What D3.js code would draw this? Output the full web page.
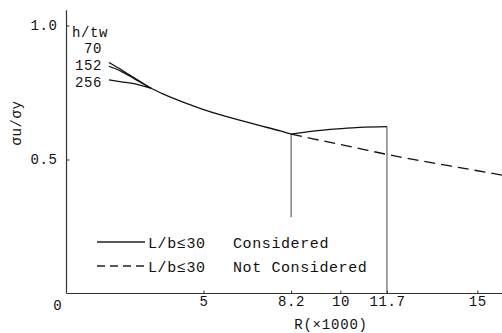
<!DOCTYPE html>
<html>
<head>
<meta charset="utf-8">
<script src="https://cdn.jsdelivr.net/npm/d3@7"></script>
<style>
  html, body { margin: 0; padding: 0; background: #fff; }
  svg { display: block; }
  text { font-family: "Liberation Mono", "DejaVu Sans Mono", monospace; fill: #111; }
</style>
</head>
<body>
<svg id="chart" width="502" height="333"></svg>
<script>
// Ultimate strength ratio σu/σy versus R (×1000)
const hLabels = ["70", "152", "256"];

// Separate branches at small R for each h/tw
const rBranch = [1.55, 2.0, 2.5, 3.1];
const sigma70 = [0.862, 0.835, 0.803, 0.765];
const sigma152 = [0.848, 0.829, 0.800, 0.765];
const sigma256 = [0.797, 0.790, 0.782, 0.765];

// Common curve up to R = 8.2
const rCommon = [3.1, 3.5, 4.0, 4.9, 5.6, 6.35, 7.0, 7.8, 8.2];
const sigmaCommon = [0.765, 0.746, 0.724, 0.690, 0.667, 0.646, 0.628, 0.607, 0.595];

// L/b ≤ 30 considered
const rConsidered = [8.2, 9.0, 10.0, 10.7, 11.7];
const sigmaConsidered = [0.595, 0.606, 0.615, 0.620, 0.623];

// L/b ≤ 30 not considered
const rNotConsidered = [8.2, 9.0, 10.0, 11.0, 11.7, 13.0, 14.0, 15.0, 15.9];
const sigmaNotConsidered = [0.595, 0.577, 0.556, 0.534, 0.519, 0.494, 0.476, 0.458, 0.442];

// Vertical markers
const markerR = [8.2, 11.7];
const markerLow = [0.285, 0];

const xTicks = [5, 8.2, 10, 11.7, 15];
const xTickLabels = ["5", "8.2", "10", "11.7", "15"];
const yTicks = [0.5, 1.0];
const yTickLabels = ["0.5", "1.0"];

const svg = d3.select("#chart");
const x = d3.scaleLinear().domain([0, 15.9]).range([66.5, 502]);
const y = d3.scaleLinear().domain([0, 1]).range([293.5, 25.5]);

const zip = (xs, ys) => xs.map((v, i) => [v, ys[i]]);
const line = d3.line().x(d => x(d[0])).y(d => y(d[1])).curve(d3.curveMonotoneX);

// Axes
const axisColor = "#333";
svg.append("line")
  .attr("x1", x(0)).attr("x2", x(0))
  .attr("y1", y(0)).attr("y2", y(1.057))
  .attr("stroke", axisColor).attr("stroke-width", 1.2);
svg.append("line")
  .attr("x1", x(0)).attr("x2", x(15.9))
  .attr("y1", y(0)).attr("y2", y(0))
  .attr("stroke", axisColor).attr("stroke-width", 1.2);

const tickFont = sel => sel
  .style("font-family", '"Liberation Mono", monospace')
  .style("font-size", "14px").style("letter-spacing", "0.6px").attr("fill", "#111");

const xAxis = d3.axisBottom(x)
  .tickValues(xTicks)
  .tickFormat((d, i) => xTickLabels[i])
  .tickSizeInner(-3).tickSizeOuter(0).tickPadding(3);
const gx = svg.append("g").attr("transform", `translate(0,${y(0)})`).call(xAxis);
gx.select(".domain").remove();
gx.selectAll(".tick line").attr("stroke", axisColor);
gx.selectAll(".tick text").call(tickFont);

const yAxis = d3.axisLeft(y)
  .tickValues(yTicks)
  .tickFormat((d, i) => yTickLabels[i])
  .tickSizeInner(-3).tickSizeOuter(0).tickPadding(9);
const gy = svg.append("g").attr("transform", `translate(${x(0)},0)`).call(yAxis);
gy.select(".domain").remove();
gy.selectAll(".tick line").attr("stroke", axisColor);
gy.selectAll(".tick text").call(tickFont);

// Origin label
svg.append("text").attr("x", x(0) - 9).attr("y", 310)
  .attr("text-anchor", "middle").style("font-size", "14px").text("0");

// Axis titles
svg.append("text").attr("x", 331).attr("y", 329)
  .attr("text-anchor", "middle").style("font-size", "14px").style("letter-spacing", "0.8px")
  .text("R(×1000)");
svg.append("text")
  .attr("transform", "translate(21,123) rotate(-90)")
  .attr("text-anchor", "middle").style("font-size", "14px").style("letter-spacing", "0.6px")
  .text("σu/σy");

// Vertical markers
markerR.forEach((r, i) => {
  const top = i === 0 ? sigmaCommon[sigmaCommon.length - 1] : sigmaConsidered[sigmaConsidered.length - 1];
  svg.append("line")
    .attr("x1", x(r)).attr("x2", x(r))
    .attr("y1", y(top)).attr("y2", y(markerLow[i]))
    .attr("stroke", "#444").attr("stroke-width", 1);
});

// Curves
const curveStyle = sel => sel.attr("fill", "none").attr("stroke", "#111").attr("stroke-width", 1.3);
[sigma70, sigma152, sigma256].forEach(s => {
  svg.append("path").datum(zip(rBranch, s)).attr("d", line).call(curveStyle);
});
svg.append("path").datum(zip(rCommon, sigmaCommon)).attr("d", line).call(curveStyle);
svg.append("path").datum(zip(rConsidered, sigmaConsidered)).attr("d", line).call(curveStyle);
svg.append("path").datum(zip(rNotConsidered, sigmaNotConsidered)).attr("d", line)
  .call(curveStyle).attr("stroke-dasharray", "11,6");

// h/tw labels
svg.append("text").attr("x", 72).attr("y", 37)
  .style("font-size", "14px").style("letter-spacing", "0.6px").text("h/tw");
const labelBase = [53, 70, 87];
hLabels.forEach((t, i) => {
  svg.append("text").attr("x", 102).attr("y", labelBase[i]).attr("text-anchor", "end")
    .style("font-size", "14px").style("letter-spacing", "0.6px").text(t);
});

// Legend
const legend = [
  { dash: null, y: 242, label: "Considered" },
  { dash: "8,5", y: 266, label: "Not Considered" }
];
legend.forEach(d => {
  const l = svg.append("line").attr("x1", 97).attr("x2", 145)
    .attr("y1", d.y).attr("y2", d.y)
    .attr("stroke", "#222").attr("stroke-width", 1.3);
  if (d.dash) l.attr("stroke-dasharray", d.dash);
  svg.append("text").attr("x", 148).attr("y", d.y + 6)
    .style("font-size", "15px").style("letter-spacing", "0.6px").text("L/b≤30");
  svg.append("text").attr("x", 233).attr("y", d.y + 6)
    .style("font-size", "15px").style("letter-spacing", "0.6px").text(d.label);
});
</script>
</body>
</html>
